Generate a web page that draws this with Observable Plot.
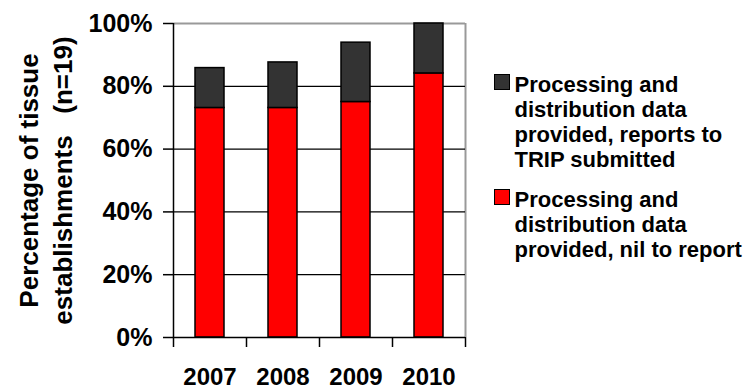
<!DOCTYPE html>
<html>
<head>
<meta charset="utf-8">
<script src="https://cdn.jsdelivr.net/npm/d3@7"></script>
<script src="https://cdn.jsdelivr.net/npm/@observablehq/plot@0.6"></script>
<style>
  html, body { margin: 0; padding: 0; background: #fff; }
  #wrap { position: relative; width: 752px; height: 390px; font-family: "Liberation Sans", Arial, sans-serif; }
  #chart { position: absolute; left: 0; top: 0; }
  .item { position: absolute; left: 494px; }
  .swatch { position: absolute; left: 0; top: 1.6px; width: 16px; height: 16px; box-sizing: border-box; border: 1.5px solid #000; }
  .label { position: absolute; left: 20.5px; top: 0; font-size: 22px; font-weight: bold; line-height: 25px; white-space: nowrap; color: #000; }
</style>
</head>
<body>
<div id="wrap"><div id="chart"></div></div>
<script>
// ---- data ----
const years = ["2007", "2008", "2009", "2010"];
const nilToReport = [73.1, 73.1, 75.0, 84.1];          // red, bottom
const reportsSubmitted = [12.7, 14.5, 18.9, 15.9];     // dark grey, top
const seriesNames = [
  "Processing and distribution data provided, nil to report",
  "Processing and distribution data provided, reports to TRIP submitted"
];
const seriesColors = ["#ff0000", "#333333"];
const yTicks = [0, 20, 40, 60, 80, 100];
const gridValues = [20, 40, 60, 80];
const yTitle = "Percentage of tissue\nestablishments\u00a0\u00a0 (n=19)";
const legendOrder = [1, 0];
const legendLines = [
  ["Processing and", "distribution data", "provided, nil to report"],
  ["Processing and", "distribution data", "provided, reports to", "TRIP submitted"]
];
const legendTops = [72.4, 187];

// ---- table ----
const rows = years.flatMap((yr, i) => [
  {year: yr, series: seriesNames[0], value: nilToReport[i]},
  {year: yr, series: seriesNames[1], value: reportsSubmitted[i]}
]);

const W = 480, H = 390, mL = 173, mR = 15, mT = 23, mB = 53;
const step = (W - mL - mR) / years.length;
const last = years[years.length - 1];

const chart = Plot.plot({
  width: W,
  height: H,
  marginLeft: mL,
  marginRight: mR,
  marginTop: mT,
  marginBottom: mB,
  style: {fontFamily: "'Liberation Sans', Arial, sans-serif", fontWeight: "bold", color: "#000", background: "#fff"},
  x: {domain: years, paddingInner: 0.6, paddingOuter: 0.3, axis: null},
  y: {domain: [0, 100], axis: null},
  color: {domain: seriesNames, range: seriesColors},
  marks: [
    Plot.ruleY([100], {stroke: "#999", strokeWidth: 2}),
    Plot.ruleX([last], {x: d => d, dx: step / 2, y1: 0, y2: 100, stroke: "#999", strokeWidth: 2}),
    Plot.ruleY(gridValues, {stroke: "#000", strokeWidth: 1.3}),
    Plot.barY(rows, {x: "year", y: "value", fill: "series", order: seriesNames, stroke: "#000", strokeWidth: 1.5}),
    Plot.ruleY([0], {stroke: "#000", strokeWidth: 1.5}),
    Plot.ruleX([years[0]], {x: d => d, dx: -step / 2, y1: 0, y2: 100, stroke: "#000", strokeWidth: 1.5}),
    Plot.ruleX(years, {x: d => d, dx: -step / 2, y1: 0, y2: 0, insetBottom: -10, stroke: "#000", strokeWidth: 1.5}),
    Plot.ruleX([last], {x: d => d, dx: step / 2, y1: 0, y2: 0, insetBottom: -10, stroke: "#000", strokeWidth: 1.5}),
    Plot.axisY(yTicks, {label: null, tickSize: 10, tickPadding: 11, tickFormat: d => d + "%", fontSize: 25, fontWeight: "bold", strokeWidth: 1.5}),
    Plot.axisX({label: null, tickSize: 0, tickPadding: 30, fontSize: 24, fontWeight: "bold"}),
    Plot.text([yTitle], {
      text: d => d, frameAnchor: "left", rotate: -90, textAnchor: "middle", lineAnchor: "top",
      lineHeight: 1.31, fontSize: 26, fontWeight: "bold", dx: -159.7, fill: "#000"
    })
  ]
});
document.getElementById("chart").appendChild(chart);

// ---- legend ----
const wrap = document.getElementById("wrap");
legendOrder.forEach((si, k) => {
  const item = document.createElement("div");
  item.className = "item";
  item.style.top = legendTops[k] + "px";
  const sw = document.createElement("div");
  sw.className = "swatch";
  sw.style.background = seriesColors[si];
  const lab = document.createElement("div");
  lab.className = "label";
  lab.innerHTML = legendLines[si].join("<br>");
  item.appendChild(sw);
  item.appendChild(lab);
  wrap.appendChild(item);
});
</script>
</body>
</html>
